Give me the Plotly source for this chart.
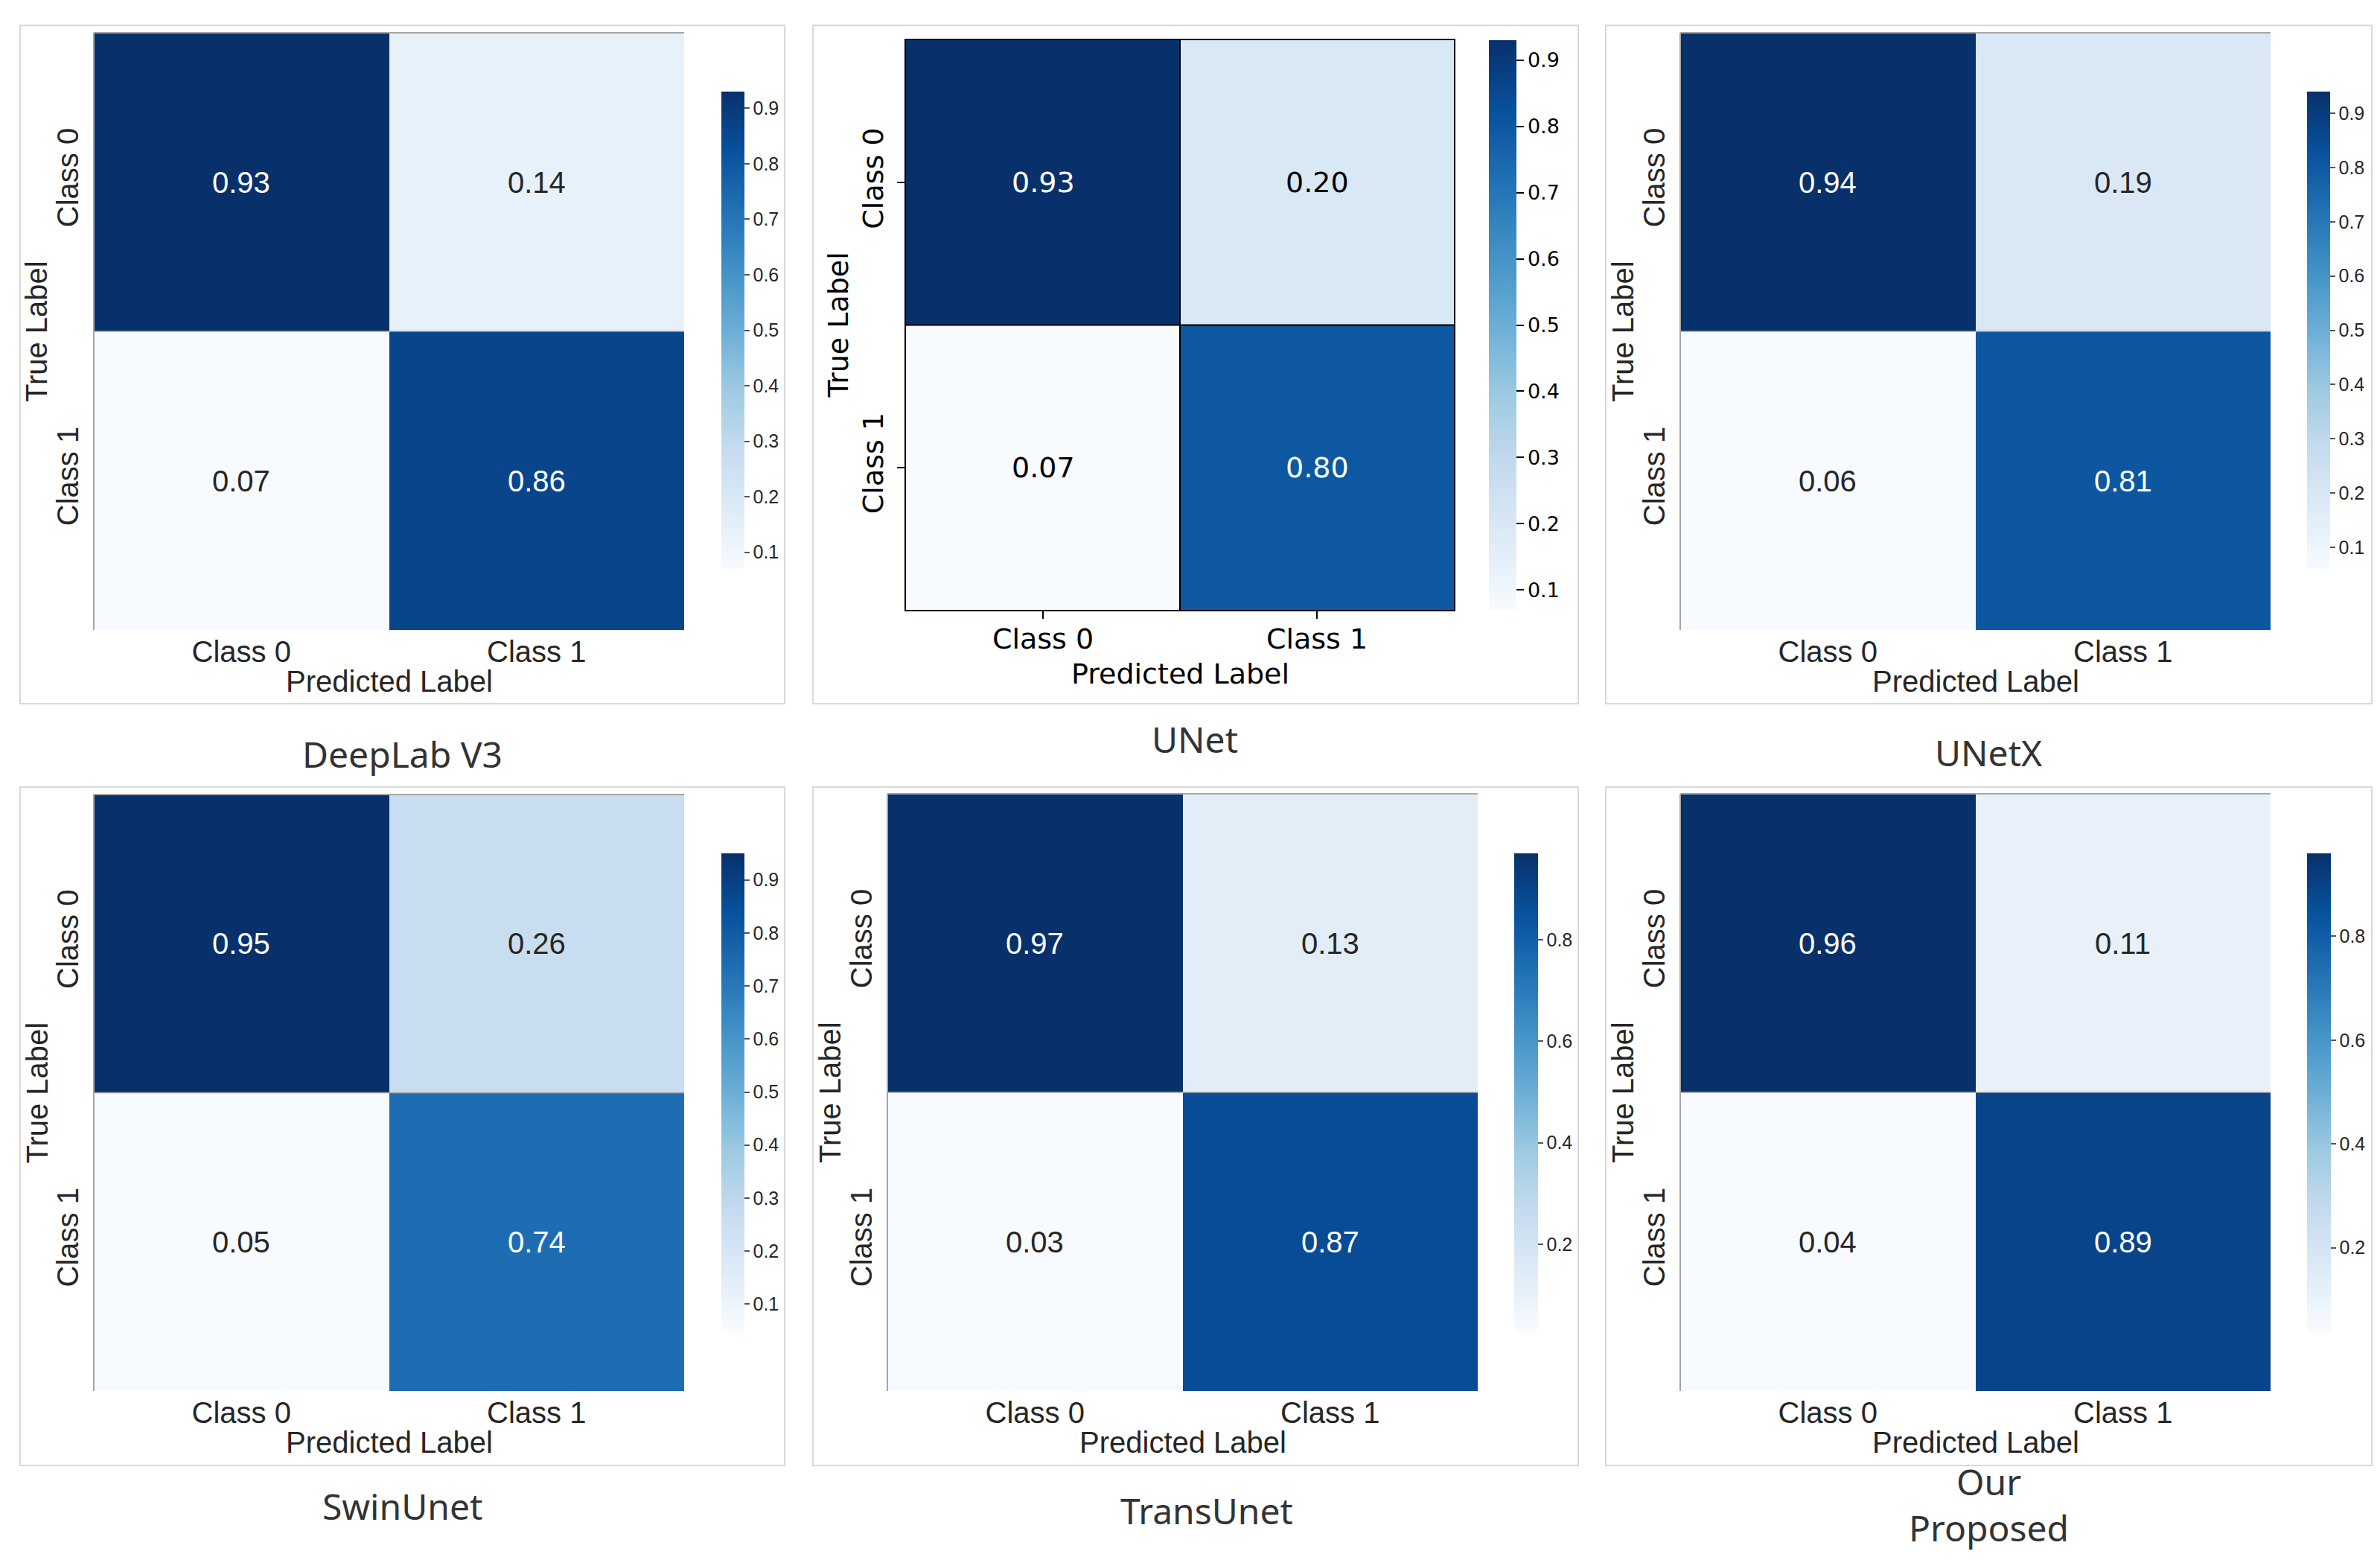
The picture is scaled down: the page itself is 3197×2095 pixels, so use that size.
import plotly.graph_objects as go

W, H = 3197, 2095

# data
classes = ["Class 0", "Class 1"]
model_names = ["DeepLab V3", "UNet", "UNetX", "SwinUnet", "TransUnet", "Our<br>Proposed"]

deeplab_v3 = [[0.93, 0.14], [0.07, 0.86]]
unet = [[0.93, 0.20], [0.07, 0.80]]
unetx = [[0.94, 0.19], [0.06, 0.81]]
swinunet = [[0.95, 0.26], [0.05, 0.74]]
transunet = [[0.97, 0.13], [0.03, 0.87]]
our_proposed = [[0.96, 0.11], [0.04, 0.89]]
matrices = [deeplab_v3, unet, unetx, swinunet, transunet, our_proposed]

ticks_fine = [0.1, 0.2, 0.3, 0.4, 0.5, 0.6, 0.7, 0.8, 0.9]
ticks_coarse = [0.2, 0.4, 0.6, 0.8]
cbar_ticks = [ticks_fine, ticks_fine, ticks_fine, ticks_fine, ticks_coarse, ticks_coarse]

# matplotlib "Blues"
BLUES = ["rgb(247,251,255)", "rgb(222,235,247)", "rgb(198,219,239)", "rgb(158,202,225)",
         "rgb(107,174,214)", "rgb(66,146,198)", "rgb(33,113,181)", "rgb(8,81,156)", "rgb(8,48,107)"]
colorscale = [[i / (len(BLUES) - 1), c] for i, c in enumerate(BLUES)]

# layout in pixels: heatmap box, colorbar box, frame box, title position
panels = [
    dict(heat=(126, 919, 44, 846), cbar=(969, 1000, 123, 764), frame=(27, 1054, 34, 945), title=(540, 1012), mpl=False),
    dict(heat=(1217, 1953, 54, 819), cbar=(2000, 2037, 54, 819), frame=(1092, 2120, 34, 945), title=(1605, 992), mpl=True),
    dict(heat=(2257, 3050, 44, 846), cbar=(3099, 3130, 123, 764), frame=(2157, 3186, 34, 945), title=(2671, 1010), mpl=False),
    dict(heat=(126, 919, 1067, 1868), cbar=(969, 1000, 1146, 1787), frame=(27, 1054, 1057, 1968), title=(540, 2022), mpl=False),
    dict(heat=(1192, 1985, 1066, 1868), cbar=(2034, 2066, 1146, 1787), frame=(1092, 2120, 1057, 1968), title=(1621, 2028), mpl=False),
    dict(heat=(2257, 3050, 1066, 1868), cbar=(3099, 3131, 1146, 1787), frame=(2157, 3186, 1057, 1968), title=(2671, 2020), mpl=False),
]


def px(x):
    return x / W


def py(y):
    return 1 - y / H


SNS_FONT = "Liberation Sans, Arial, sans-serif"
MPL_FONT = "DejaVu Sans, sans-serif"
TITLE_FONT = "Noto Sans, Open Sans, sans-serif"
SNS_TEXT = "#262626"

fig = go.Figure()
annotations = []
shapes = []

for i, (mat, p) in enumerate(zip(matrices, panels)):
    n = i + 1
    xa = "x" if n == 1 else f"x{n}"
    ya = "y" if n == 1 else f"y{n}"
    zmin = min(min(r) for r in mat)
    zmax = max(max(r) for r in mat)
    hx0, hx1, hy0, hy1 = p["heat"]
    cx0, cx1, cy0, cy1 = p["cbar"]
    mpl = p["mpl"]
    font = MPL_FONT if mpl else SNS_FONT
    tcol = "#000000" if mpl else SNS_TEXT

    fig.add_trace(go.Heatmap(
        z=mat, x=classes, y=classes,
        colorscale=colorscale, zmin=zmin, zmax=zmax,
        xaxis=xa, yaxis=ya,
        colorbar=dict(
            x=px(cx0), xanchor="left", y=py(cy0), yanchor="top",
            thickness=cx1 - cx0, len=cy1 - cy0, lenmode="pixels",
            xpad=0, ypad=0, outlinewidth=0,
            tickvals=cbar_ticks[i], tickformat=".1f",
            ticks="outside", ticklen=10 if mpl else 7,
            tickwidth=2 if mpl else 1.5, tickcolor="#000" if mpl else "#555",
            tickfont=dict(family=font, size=27 if mpl else 25, color=tcol),
        ),
        hovertemplate="%{y} / %{x}: %{z:.2f}<extra></extra>",
    ))

    axis_common = dict(
        type="category", showgrid=False, zeroline=False,
        tickfont=dict(family=font, size=38 if mpl else 40, color=tcol),
    )
    if mpl:
        axis_common.update(ticks="outside", ticklen=10, tickwidth=2, tickcolor="#000",
                           showline=True, mirror=True, linecolor="#000", linewidth=2)
    else:
        axis_common.update(ticks="", showline=False)

    fig.update_layout({
        ("xaxis" if n == 1 else f"xaxis{n}"): dict(
            axis_common, domain=[px(hx0), px(hx1)], anchor=ya, range=[-0.5, 1.5],
            ticklabelstandoff=-6 if mpl else 2,
        ),
        ("yaxis" if n == 1 else f"yaxis{n}"): dict(
            axis_common, domain=[py(hy1), py(hy0)], anchor=xa, range=[1.5, -0.5],
            tickangle=-90, ticklabelstandoff=4 if mpl else 12,
        ),
    })

    # cell values
    for r in range(2):
        for c in range(2):
            v = mat[r][c]
            dark = (v - zmin) / (zmax - zmin) > 0.5
            annotations.append(dict(
                x=classes[c], y=classes[r], xref=xa, yref=ya,
                text=f"{v:.2f}", showarrow=False,
                font=dict(family=font, size=38 if mpl else 40,
                          color="#ffffff" if dark else tcol),
            ))

    # axis titles
    annotations.append(dict(
        x=px((hx0 + hx1) / 2), y=py(hy1 + (86 if mpl else 69)), xref="paper", yref="paper",
        text="Predicted Label", showarrow=False, xanchor="center", yanchor="middle",
        font=dict(family=font, size=38 if mpl else 40, color=tcol),
    ))
    annotations.append(dict(
        x=px(hx0 - (91 if mpl else 77)), y=py((hy0 + hy1) / 2), xref="paper", yref="paper",
        text="True Label", showarrow=False, textangle=-90, xanchor="center", yanchor="middle",
        font=dict(family=font, size=38 if mpl else 40, color=tcol),
    ))

    # panel title below
    tx, ty = p["title"]
    annotations.append(dict(
        x=px(tx), y=py(ty), xref="paper", yref="paper",
        text=model_names[i], showarrow=False, xanchor="center", yanchor="middle",
        font=dict(family=TITLE_FONT, size=48, color="#333333"),
    ))

    # light frame around each panel
    fx0, fx1, fy0, fy1 = p["frame"]
    shapes.append(dict(type="rect", xref="paper", yref="paper",
                       x0=px(fx0), x1=px(fx1), y0=py(fy1), y1=py(fy0),
                       line=dict(color="#d9d9d9", width=2), layer="below"))

    # cell edges
    if mpl:
        line = dict(color="#000000", width=2)
        shapes.append(dict(type="line", xref=xa, yref=f"{ya} domain", x0=0.5, x1=0.5, y0=0, y1=1, line=line))
        shapes.append(dict(type="line", xref=f"{xa} domain", yref=ya, x0=0, x1=1, y0=0.5, y1=0.5, line=line))
    else:
        line = dict(color="#a6a6a6", width=2)
        shapes.append(dict(type="line", xref=f"{xa} domain", yref=f"{ya} domain", x0=0, x1=1, y0=1, y1=1, line=line))
        shapes.append(dict(type="line", xref=f"{xa} domain", yref=f"{ya} domain", x0=0, x1=0, y0=0, y1=1, line=line))
        shapes.append(dict(type="line", xref=f"{xa} domain", yref=ya, x0=0, x1=1, y0=0.5, y1=0.5,
                           line=dict(color="#a6a6a6", width=1.5)))

fig.update_layout(
    width=W, height=H,
    margin=dict(l=0, r=0, t=0, b=0),
    paper_bgcolor="white", plot_bgcolor="white",
    showlegend=False,
    annotations=annotations,
    shapes=shapes,
)

# drop the browser's default page margin so pixel positions line up
fig.write_html(
    "out.html",
    config={"displayModeBar": False},
    post_script="document.body.style.margin='0';document.body.style.overflow='hidden';",
)
